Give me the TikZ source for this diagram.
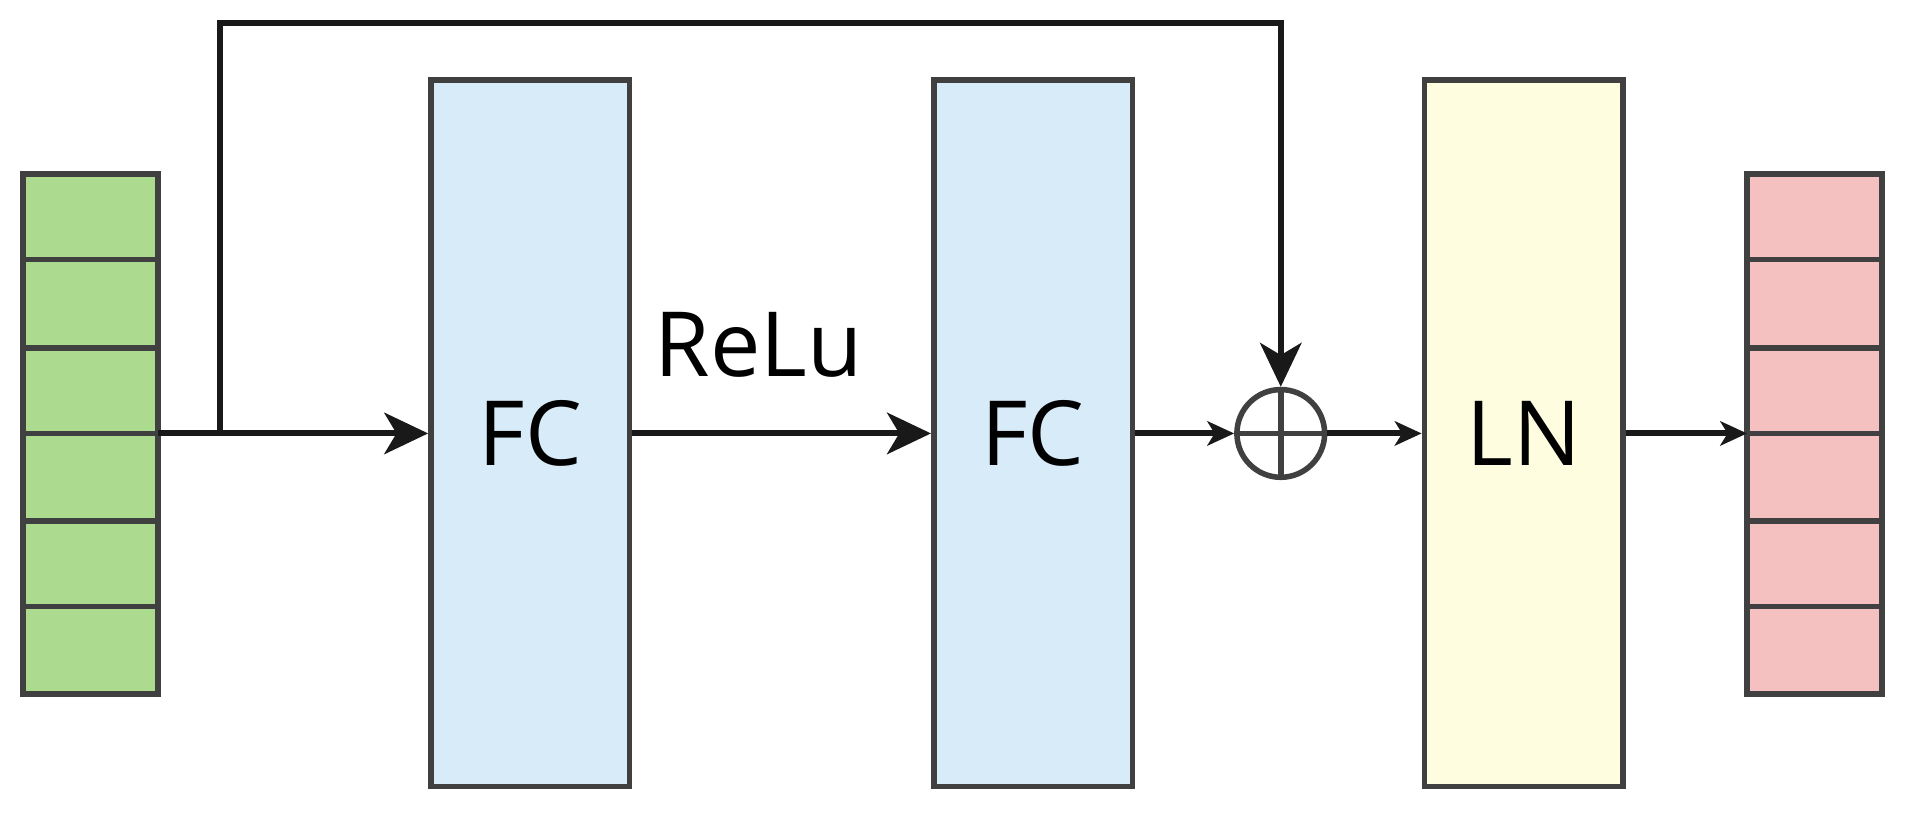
\documentclass[tikz,border=0pt]{standalone}
\usepackage{fontspec}
\setmainfont{Open Sans}
\usetikzlibrary{arrows.meta}
\definecolor{bord}{HTML}{404040}
\begin{document}
\begin{tikzpicture}[x=0.01cm,y=-0.01cm,
  box/.style={draw=bord,line width=1.3pt},
  conn/.style={draw=black!90,line width=1.4pt},
  big/.style={-{Stealth[length=0.36cm,width=0.34cm,inset=0.1cm]}},
  small/.style={-{Stealth[length=0.22cm,width=0.2cm,inset=0.06cm]}},
  lbl/.style={font=\fontsize{21}{24}\selectfont}]
\useasboundingbox (0,0) rectangle (1568,670.2);
% input vector
\foreach \a/\b [count=\i] in {143/213,213/286,286/356,356/428,428/498,498/570}{
  \draw[box,fill={rgb,255:red,172;green,219;blue,143}] (19,\a) rectangle (130,\b);
  \draw[box,fill={rgb,255:red,244;green,192;blue,192}] (1435,\a) rectangle (1546,\b);
}
\coordinate (in) at (130,356);
\coordinate (out) at (1435,356);
\coordinate (split) at (181,356);
\node[box,fill={rgb,255:red,216;green,235;blue,249},minimum width=1.63cm,minimum height=5.8cm,inner sep=0,lbl] (fc1) at (435.5,356) {FC};
\node[box,fill={rgb,255:red,216;green,235;blue,249},minimum width=1.63cm,minimum height=5.8cm,inner sep=0,lbl] (fc2) at (848.5,356) {FC};
\node[box,fill={rgb,255:red,255;green,253;blue,224},minimum width=1.63cm,minimum height=5.8cm,inner sep=0,lbl] (ln) at (1251.5,356) {LN};
\node[circle,draw=bord,line width=1.3pt,minimum size=0.72cm,inner sep=0] (add) at (1052,356) {};
\draw[bord,line width=1.3pt] (add.north) -- (add.south) (add.west) -- (add.east);
\node[lbl,anchor=south] (relu) at (623,322) {ReLu};
\draw[conn,big] (in) -- (fc1.west);
\draw[conn,big] (fc1.east) -- (fc2.west);
\draw[conn,small] (fc2.east) -- (add.west);
\draw[conn,small] (add.east) -- (ln.west);
\draw[conn,small] (ln.east) -- (out);
\draw[conn,big] (split) -- (181,19) -- (1052,19) -- (add.north);
\end{tikzpicture}
\end{document}
